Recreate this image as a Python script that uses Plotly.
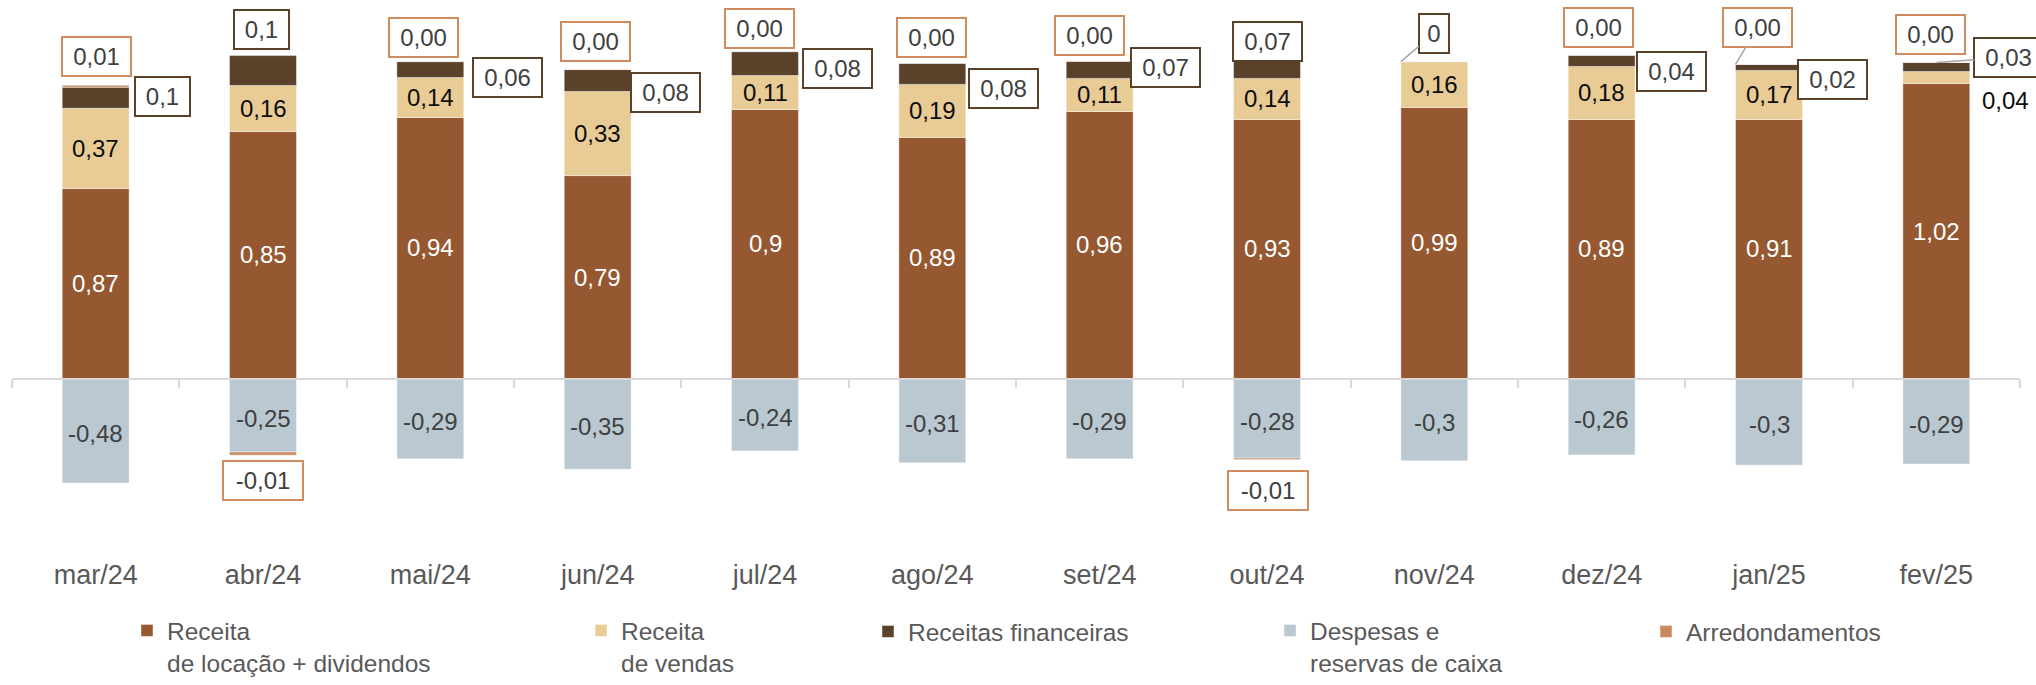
import plotly.graph_objects as go

# ---------------- data ----------------
months = ["mar/24", "abr/24", "mai/24", "jun/24", "jul/24", "ago/24",
          "set/24", "out/24", "nov/24", "dez/24", "jan/25", "fev/25"]

# bar heights
locacao = [0.667, 0.867, 0.916, 0.712, 0.944, 0.846, 0.937, 0.909, 0.951, 0.909, 0.909, 1.035]
vendas = [0.281, 0.161, 0.140, 0.295, 0.119, 0.186, 0.116, 0.144, 0.161, 0.186, 0.172, 0.042]
financeiras = [0.074, 0.105, 0.056, 0.077, 0.084, 0.074, 0.060, 0.063, 0.0, 0.039, 0.021, 0.032]
despesas = [-0.367, -0.258, -0.282, -0.318, -0.254, -0.296, -0.282, -0.279, -0.289, -0.268, -0.304, -0.300]
arredond = [0.007, -0.011, 0.0, 0.0, 0.0, 0.0, 0.0, -0.005, 0.0, 0.0, 0.0, 0.0]

# data labels as printed on the chart
lbl_locacao = ["0,87", "0,85", "0,94", "0,79", "0,9", "0,89", "0,96", "0,93", "0,99", "0,89", "0,91", "1,02"]
lbl_vendas = ["0,37", "0,16", "0,14", "0,33", "0,11", "0,19", "0,11", "0,14", "0,16", "0,18", "0,17", "0,04"]
lbl_fin = ["0,1", "0,1", "0,06", "0,08", "0,08", "0,08", "0,07", "0,07", "0", "0,04", "0,02", "0,03"]
lbl_desp = ["-0,48", "-0,25", "-0,29", "-0,35", "-0,24", "-0,31", "-0,29", "-0,28", "-0,3", "-0,26", "-0,3", "-0,29"]
lbl_arr = ["0,01", "-0,01", "0,00", "0,00", "0,00", "0,00", "0,00", "-0,01", None, "0,00", "0,00", "0,00"]

names = ["Receita<br>de locação + dividendos", "Receita<br>de vendas", "Receitas financeiras",
         "Despesas e<br>reservas de caixa", "Arredondamentos"]

# ---------------- styles / layout config ----------------
FONT = "Liberation Sans, Arial, sans-serif"
C_LOC = "#955831"
C_VEN = "#E9CB96"
C_FIN = "#5A412A"
C_DES = "#BAC9D1"
C_ARR = "#C98A5F"
C_ARR_BORDER = "#CF8C5F"
TXT_DARK = "#404040"
AX_GRAY = "#D9D9D9"

W, H = 2036, 685
M_L, M_R, M_T = 12, 16, 0
PLOT_BOTTOM = 556
ZERO_PX = 378.5
PX_PER_UNIT = 285.0
y_max = ZERO_PX / PX_PER_UNIT
y_min = -(PLOT_BOTTOM - ZERO_PX) / PX_PER_UNIT
zero_frac = (0 - y_min) / (y_max - y_min)
HALF_BAR = 0.2

# label offsets in pixels (dx right, dy down) relative to the stack top
fin_offsets = [(67, 9), (-2, -26), (77, 16), (68, 22.5), (72, 17), (71, 25),
               (65.5, 6), (0, -19), None, (70, 16), (63, 15), None]
# arrow-linked financeiras labels: (point x offset in category units, ax, ay)
fin_arrows = {8: (-HALF_BAR, 33, -28), 11: (0.0, 72.5, -5)}
arr_offsets = [(0.5, -28.5), (0, 25), (-6.5, -24.5), (-2, -28.5), (-5.5, -23), (-1, -26),
               (-10.5, -25.5), (0.5, 31.5), None, (-3.5, -28), None, (-5.5, -28)]
arr_arrows = {10: (-HALF_BAR, 22, -37)}

box_width = {1: 22, 3: 47, 4: 61, 5: 72}

fig = go.Figure()
series = [(locacao, C_LOC), (vendas, C_VEN), (financeiras, C_FIN), (despesas, C_DES), (arredond, C_ARR)]
for k, (vals, col) in enumerate(series):
    fig.add_trace(go.Bar(
        x=list(range(len(months))), y=vals, name=names[k],
        marker=dict(color=col, line=dict(color="rgba(255,255,255,0.55)", width=0.8)),
        legend="legend" if k == 0 else f"legend{k + 1}",
        hoverinfo="skip",
    ))

# invisible trace to host the zero axis
fig.add_trace(go.Scatter(x=[-0.5], y=[0], xaxis="x2", mode="markers",
                         marker=dict(opacity=0), showlegend=False, hoverinfo="skip"))

ann = []
n = len(months)
for i in range(n):
    ann.append(dict(x=i, y=locacao[i] / 2, text=lbl_locacao[i], showarrow=False,
                    font=dict(family=FONT, size=24, color="white")))
    if i == n - 1:
        ann.append(dict(x=i, y=locacao[i] + vendas[i] / 2, text=lbl_vendas[i], showarrow=False,
                        xshift=69.5, yshift=-23, font=dict(family=FONT, size=24, color="#0D0D0D")))
    else:
        ann.append(dict(x=i, y=locacao[i] + vendas[i] / 2, text=lbl_vendas[i], showarrow=False,
                        font=dict(family=FONT, size=24, color="#0D0D0D")))
    ann.append(dict(x=i, y=despesas[i] / 2, text=lbl_desp[i], showarrow=False, yshift=-3,
                    font=dict(family=FONT, size=24, color=TXT_DARK)))
    top_fin = locacao[i] + vendas[i] + financeiras[i]
    box = dict(text=lbl_fin[i], bgcolor="white", bordercolor=C_FIN, borderwidth=2, borderpad=3,
               width=box_width[len(lbl_fin[i])], height=31,
               font=dict(family=FONT, size=24, color=TXT_DARK))
    if i in fin_arrows:
        px, ax, ay = fin_arrows[i]
        box.update(x=i + px, y=top_fin, showarrow=True, ax=ax, ay=ay, arrowhead=0,
                   arrowwidth=1.5, arrowcolor="#A6A6A6", standoff=0, startstandoff=0)
    else:
        dx, dy = fin_offsets[i]
        box.update(x=i, y=top_fin, showarrow=False, xshift=dx, yshift=-dy)
    ann.append(box)
    if lbl_arr[i] is not None:
        if arredond[i] < 0:
            anchor_y = despesas[i] + arredond[i]
        else:
            anchor_y = top_fin + arredond[i]
        box = dict(text=lbl_arr[i], bgcolor="white", bordercolor=C_ARR_BORDER, borderwidth=2,
                   borderpad=3, width=box_width[len(lbl_arr[i])], height=31,
                   font=dict(family=FONT, size=24, color=TXT_DARK))
        if i in arr_arrows:
            px, ax, ay = arr_arrows[i]
            box.update(x=i + px, y=anchor_y, showarrow=True, ax=ax, ay=ay, arrowhead=0,
                       arrowwidth=1.5, arrowcolor="#A6A6A6", standoff=0, startstandoff=0)
        else:
            dx, dy = arr_offsets[i]
            box.update(x=i, y=anchor_y, showarrow=False, xshift=dx, yshift=-dy)
        ann.append(box)

plot_w = W - M_L - M_R
legend_text_px = [167, 621, 908, 1310, 1686]
legends = {}
for k, tx in enumerate(legend_text_px):
    key = "legend" if k == 0 else f"legend{k + 1}"
    legends[key] = dict(
        x=(tx - 40 - M_L) / plot_w, xanchor="left",
        yref="container", y=0.0, yanchor="bottom",
        orientation="h", valign="top", bgcolor="rgba(0,0,0,0)", borderwidth=0,
        font=dict(family=FONT, size=24.5, color="#595959"),
    )
# single-line entries sit at the same top as two-line entries
for key in ("legend3", "legend5"):
    legends[key]["y"] = 31.0 / H

fig.update_layout(
    width=W, height=H,
    margin=dict(l=M_L, r=M_R, t=M_T, b=H - PLOT_BOTTOM, pad=0, autoexpand=False),
    paper_bgcolor="white", plot_bgcolor="white",
    barmode="relative", bargap=0.6,
    showlegend=True,
    annotations=ann,
    xaxis=dict(type="linear", range=[-0.5, n - 0.5], tickmode="array",
               tickvals=list(range(n)), ticktext=months, showgrid=False, zeroline=False,
               showline=False, ticks="", tickfont=dict(family=FONT, size=27, color="#595959")),
    xaxis2=dict(overlaying="x", anchor="free", position=zero_frac, range=[-0.5, n - 0.5],
                tickmode="array", tickvals=[j - 0.5 for j in range(n + 1)], showticklabels=False,
                ticks="outside", ticklen=8, tickwidth=2, tickcolor=AX_GRAY, showline=True,
                linecolor=AX_GRAY, linewidth=2, showgrid=False, zeroline=False, side="bottom"),
    yaxis=dict(range=[y_min, y_max], visible=False, showgrid=False, zeroline=False),
    hovermode=False,
    **legends,
)

fig.write_html("out.html")
